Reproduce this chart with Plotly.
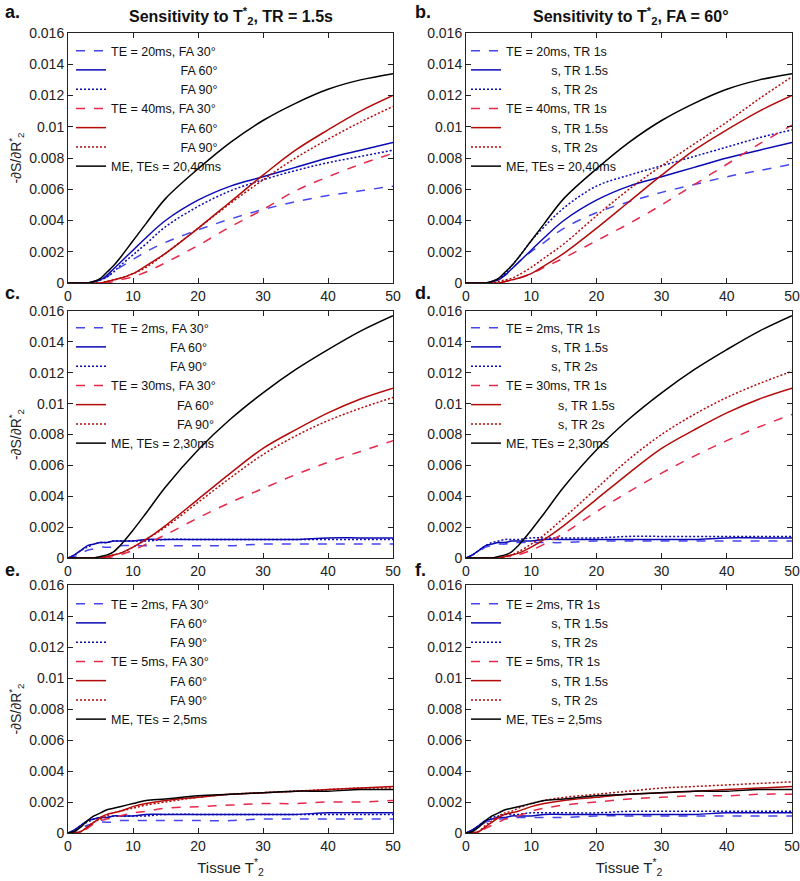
import plotly.graph_objects as go

# ---------------- data ----------------
T2 = [0, 1, 2, 3, 4, 5, 6, 7, 8, 10, 12, 15, 20, 25, 30, 35, 40, 45, 50]

# Panels a/b : TE = 20 / 40 ms
me_20_40       = [0, 0, 0, 0, 0.0001, 0.0003, 0.0007, 0.0011, 0.0016, 0.0027, 0.0038, 0.0054, 0.0073, 0.0090, 0.0104, 0.0115, 0.0124, 0.0130, 0.0134]
te20_fa60_tr15 = [0, 0, 0, 0, 0.0001, 0.0002, 0.0005, 0.0009, 0.0013, 0.0021, 0.0029, 0.0040, 0.0053, 0.0062, 0.0068, 0.0074, 0.0080, 0.0085, 0.0090]
te20_fa90      = [0, 0, 0, 0, 0.0001, 0.0002, 0.0004, 0.0007, 0.0011, 0.0018, 0.0025, 0.0036, 0.0049, 0.0059, 0.0066, 0.0072, 0.0077, 0.0081, 0.0085]
te20_fa30      = [0, 0, 0, 0, 0.0001, 0.0002, 0.0004, 0.0007, 0.0010, 0.0015, 0.0020, 0.0026, 0.0034, 0.0041, 0.0047, 0.0052, 0.0056, 0.0059, 0.0062]
te40_fa60_tr15 = [0, 0, 0, 0, 0, 0, 0.0001, 0.0002, 0.0003, 0.0006, 0.0011, 0.0019, 0.0035, 0.0052, 0.0069, 0.0085, 0.0098, 0.0110, 0.0120]
te40_fa90      = [0, 0, 0, 0, 0, 0, 0.0001, 0.0002, 0.0003, 0.0006, 0.0010, 0.0019, 0.0035, 0.0051, 0.0066, 0.0080, 0.0092, 0.0103, 0.0113]
te40_fa30      = [0, 0, 0, 0, 0, 0, 0, 0.0001, 0.0002, 0.0004, 0.0007, 0.0013, 0.0024, 0.0036, 0.0047, 0.0059, 0.0068, 0.0076, 0.0083]
te20_tr2       = [0, 0, 0, 0, 0.0001, 0.0003, 0.0006, 0.0011, 0.0016, 0.0027, 0.0036, 0.0048, 0.0062, 0.0069, 0.0075, 0.0081, 0.0087, 0.0093, 0.0098]
te20_tr1       = [0, 0, 0, 0, 0.0001, 0.0003, 0.0005, 0.0009, 0.0013, 0.0020, 0.0026, 0.0035, 0.0045, 0.0052, 0.0058, 0.0063, 0.0068, 0.0072, 0.0076]
te40_tr2       = [0, 0, 0, 0, 0, 0.0001, 0.0002, 0.0003, 0.0005, 0.0010, 0.0016, 0.0025, 0.0043, 0.0060, 0.0075, 0.0089, 0.0103, 0.0118, 0.0132]
te40_tr1       = [0, 0, 0, 0, 0, 0, 0.0001, 0.0002, 0.0003, 0.0006, 0.0010, 0.0016, 0.0027, 0.0038, 0.0050, 0.0063, 0.0076, 0.0089, 0.0101]

# Panels c/d : TE = 2 / 30 ms
me_2_30        = [0, 0, 0, 0, 0, 0.0001, 0.0002, 0.0004, 0.0008, 0.0018, 0.0029, 0.0046, 0.0070, 0.0090, 0.0107, 0.0122, 0.0135, 0.0147, 0.0157]
te2_fa60_tr15  = [0, 0.0002, 0.0005, 0.0008, 0.0009, 0.0010, 0.0010, 0.0011, 0.0011, 0.0011, 0.0012, 0.0012, 0.0012, 0.0012, 0.0012, 0.0012, 0.0013, 0.0013, 0.0013]
te2_fa90       = [0, 0.0002, 0.0005, 0.0007, 0.0009, 0.0010, 0.0010, 0.0011, 0.0011, 0.0011, 0.0011, 0.0012, 0.0012, 0.0012, 0.0012, 0.0012, 0.0012, 0.0012, 0.0012]
te2_fa30       = [0, 0.0001, 0.0003, 0.0005, 0.0006, 0.0007, 0.0007, 0.0007, 0.0008, 0.0008, 0.0008, 0.0008, 0.0008, 0.0008, 0.0009, 0.0009, 0.0009, 0.0009, 0.0009]
te30_fa60_tr15 = [0, 0, 0, 0, 0, 0, 0.0001, 0.0002, 0.0003, 0.0007, 0.0012, 0.0021, 0.0038, 0.0055, 0.0071, 0.0083, 0.0094, 0.0103, 0.0110]
te30_fa90      = [0, 0, 0, 0, 0, 0, 0.0001, 0.0002, 0.0003, 0.0007, 0.0012, 0.0020, 0.0036, 0.0052, 0.0067, 0.0079, 0.0089, 0.0097, 0.0104]
te30_fa30      = [0, 0, 0, 0, 0, 0, 0, 0.0001, 0.0002, 0.0005, 0.0009, 0.0015, 0.0026, 0.0036, 0.0045, 0.0054, 0.0062, 0.0069, 0.0076]
te2_tr2        = [0, 0.0002, 0.0005, 0.0008, 0.0010, 0.0011, 0.0012, 0.0012, 0.0012, 0.0013, 0.0013, 0.0013, 0.0013, 0.0014, 0.0014, 0.0014, 0.0014, 0.0014, 0.0014]
te2_tr1        = [0, 0.0002, 0.0004, 0.0007, 0.0008, 0.0009, 0.0009, 0.0010, 0.0010, 0.0010, 0.0010, 0.0010, 0.0011, 0.0011, 0.0011, 0.0011, 0.0011, 0.0011, 0.0011]
te30_tr2       = [0, 0, 0, 0, 0, 0, 0.0001, 0.0002, 0.0004, 0.0009, 0.0015, 0.0026, 0.0045, 0.0064, 0.0080, 0.0093, 0.0104, 0.0113, 0.0121]
te30_tr1       = [0, 0, 0, 0, 0, 0, 0.0001, 0.0001, 0.0002, 0.0005, 0.0009, 0.0016, 0.0030, 0.0043, 0.0055, 0.0066, 0.0076, 0.0085, 0.0093]

# Panels e/f : TE = 2 / 5 ms
me_2_5         = [0, 0.0001, 0.0004, 0.0008, 0.0011, 0.0013, 0.0015, 0.0016, 0.0017, 0.0019, 0.0021, 0.0022, 0.0024, 0.0025, 0.0026, 0.0027, 0.0027, 0.0028, 0.0028]
te5_fa60_tr15  = [0, 0, 0.0001, 0.0004, 0.0007, 0.0010, 0.0012, 0.0013, 0.0014, 0.0017, 0.0019, 0.0021, 0.0023, 0.0025, 0.0026, 0.0027, 0.0028, 0.0029, 0.0030]
te5_fa90       = [0, 0, 0.0001, 0.0004, 0.0007, 0.0009, 0.0011, 0.0013, 0.0014, 0.0016, 0.0018, 0.0020, 0.0023, 0.0025, 0.0026, 0.0027, 0.0028, 0.0029, 0.0029]
te5_fa30       = [0, 0, 0.0001, 0.0003, 0.0006, 0.0008, 0.0009, 0.0010, 0.0011, 0.0013, 0.0014, 0.0016, 0.0017, 0.0018, 0.0019, 0.0019, 0.0020, 0.0020, 0.0021]
te5_tr2        = [0, 0, 0.0001, 0.0005, 0.0008, 0.0011, 0.0013, 0.0014, 0.0016, 0.0019, 0.0021, 0.0023, 0.0025, 0.0027, 0.0029, 0.0030, 0.0031, 0.0032, 0.0033]
te5_tr1        = [0, 0, 0.0001, 0.0003, 0.0005, 0.0007, 0.0009, 0.0010, 0.0011, 0.0014, 0.0016, 0.0018, 0.0020, 0.0022, 0.0023, 0.0024, 0.0024, 0.0025, 0.0025]

Y_TICKS = [0, 0.002, 0.004, 0.006, 0.008, 0.01, 0.012, 0.014, 0.016]
Y_TICK_LABELS = ["0", "0.002", "0.004", "0.006", "0.008", "0.01", "0.012", "0.014", "0.016"]
X_TICKS = [0, 10, 20, 30, 40, 50]

# ---------------- styles ----------------
BLUE = "#0a0ab4"
BLUE_L = "#4646f0"
RED = "#b40a0a"
RED_L = "#e6284b"
BLACK = "#000000"
DOT = "2px,2px"
NB = "\u00a0"

def pad(n, s):
    return NB * n + s

panels = [
    [("TE = 20ms, FA 30°", te20_fa30, BLUE_L, "dash"),
     (pad(20, "FA 60°"), te20_fa60_tr15, BLUE, "solid"),
     (pad(20, "FA 90°"), te20_fa90, BLUE, DOT),
     ("TE = 40ms, FA 30°", te40_fa30, RED_L, "dash"),
     (pad(20, "FA 60°"), te40_fa60_tr15, RED, "solid"),
     (pad(20, "FA 90°"), te40_fa90, RED, DOT),
     ("ME, TEs = 20,40ms", me_20_40, BLACK, "solid")],
    [("TE = 20ms, TR 1s", te20_tr1, BLUE_L, "dash"),
     (pad(13, "s, TR 1.5s"), te20_fa60_tr15, BLUE, "solid"),
     (pad(13, "s, TR 2s"), te20_tr2, BLUE, DOT),
     ("TE = 40ms, TR 1s", te40_tr1, RED_L, "dash"),
     (pad(13, "s, TR 1.5s"), te40_fa60_tr15, RED, "solid"),
     (pad(13, "s, TR 2s"), te40_tr2, RED, DOT),
     ("ME, TEs = 20,40ms", me_20_40, BLACK, "solid")],
    [("TE = 2ms, FA 30°", te2_fa30, BLUE_L, "dash"),
     (pad(17, "FA 60°"), te2_fa60_tr15, BLUE, "solid"),
     (pad(17, "FA 90°"), te2_fa90, BLUE, DOT),
     ("TE = 30ms, FA 30°", te30_fa30, RED_L, "dash"),
     (pad(19, "FA 60°"), te30_fa60_tr15, RED, "solid"),
     (pad(19, "FA 90°"), te30_fa90, RED, DOT),
     ("ME, TEs = 2,30ms", me_2_30, BLACK, "solid")],
    [("TE = 2ms, TR 1s", te2_tr1, BLUE_L, "dash"),
     (pad(13, "s, TR 1.5s"), te2_fa60_tr15, BLUE, "solid"),
     (pad(13, "s, TR 2s"), te2_tr2, BLUE, DOT),
     ("TE = 30ms, TR 1s", te30_tr1, RED_L, "dash"),
     (pad(15, "s, TR 1.5s"), te30_fa60_tr15, RED, "solid"),
     (pad(15, "s, TR 2s"), te30_tr2, RED, DOT),
     ("ME, TEs = 2,30ms", me_2_30, BLACK, "solid")],
    [("TE = 2ms, FA 30°", te2_fa30, BLUE_L, "dash"),
     (pad(17, "FA 60°"), te2_fa60_tr15, BLUE, "solid"),
     (pad(17, "FA 90°"), te2_fa90, BLUE, DOT),
     ("TE = 5ms, FA 30°", te5_fa30, RED_L, "dash"),
     (pad(17, "FA 60°"), te5_fa60_tr15, RED, "solid"),
     (pad(17, "FA 90°"), te5_fa90, RED, DOT),
     ("ME, TEs = 2,5ms", me_2_5, BLACK, "solid")],
    [("TE = 2ms, TR 1s", te2_tr1, BLUE_L, "dash"),
     (pad(13, "s, TR 1.5s"), te2_fa60_tr15, BLUE, "solid"),
     (pad(13, "s, TR 2s"), te2_tr2, BLUE, DOT),
     ("TE = 5ms, TR 1s", te5_tr1, RED_L, "dash"),
     (pad(13, "s, TR 1.5s"), te5_fa60_tr15, RED, "solid"),
     (pad(13, "s, TR 2s"), te5_tr2, RED, DOT),
     ("ME, TEs = 2,5ms", me_2_5, BLACK, "solid")],
]

W, H = 800, 881
def dx(a, b):
    return [a / W, b / W]
def dy(top, bottom):
    return [1 - bottom / H, 1 - top / H]

x_dom = [dx(68, 393), dx(466, 792)]
y_dom = [dy(33, 283), dy(311, 558), dy(585, 833)]
legend_xy = [(71, 36), (466, 36), (71, 313), (466, 313), (71, 589), (466, 589)]

FONT = "Liberation Sans, Arial, Helvetica, sans-serif"
fig = go.Figure()
layout = dict(
    width=W, height=H, margin=dict(l=0, r=0, t=0, b=0, autoexpand=False),
    paper_bgcolor="white", plot_bgcolor="white",
    font=dict(family=FONT, size=14, color="#111"),
    showlegend=True,
)

for i, traces in enumerate(panels):
    k = i + 1
    xa = "x" if k == 1 else f"x{k}"
    ya = "y" if k == 1 else f"y{k}"
    lg = "legend" if k == 1 else f"legend{k}"
    for name, vals, color, dash in traces:
        fig.add_trace(go.Scatter(
            x=T2, y=vals, name=name, mode="lines",
            line=dict(color=color, width=1.5, dash=dash, shape="spline", smoothing=1.0),
            xaxis=xa, yaxis=ya, legend=lg,
        ))
    row, col = i // 2, i % 2
    axis_common = dict(showline=True, linecolor="#222", linewidth=1, mirror="ticks",
                       ticks="inside", ticklen=5, tickcolor="#222", showgrid=False,
                       zeroline=False, automargin=False,
                       tickfont=dict(size=14, color="#222"))
    xkey = "xaxis" if k == 1 else f"xaxis{k}"
    ykey = "yaxis" if k == 1 else f"yaxis{k}"
    layout[xkey] = dict(domain=x_dom[col], range=[0, 50], tickvals=X_TICKS,
                        anchor=ya, **axis_common)
    layout[ykey] = dict(domain=y_dom[row], range=[0, 0.016], tickvals=Y_TICKS,
                        ticktext=Y_TICK_LABELS, anchor=xa, **axis_common)
    if col == 0:
        layout[ykey]["title"] = dict(text="-∂S/∂R<sup>*</sup><sub>2</sub>",
                                     font=dict(size=14, color="#222"), standoff=4)
    if row == 2:
        layout[xkey]["title"] = dict(text="Tissue T<sup>*</sup><sub>2</sub>",
                                     font=dict(size=15, color="#222"), standoff=9)
    lx, ly = legend_xy[i]
    layout[lg] = dict(x=lx / W, y=1 - ly / H, xanchor="left", yanchor="top",
                      bgcolor="rgba(0,0,0,0)", borderwidth=0, itemwidth=30,
                      font=dict(size=12.5, color="#111"), tracegroupgap=0,
                      traceorder="normal")

annotations = [
    dict(text="<b>Sensitivity to T<sup>*</sup><sub>2</sub>, TR = 1.5s</b>", x=231 / W, y=1 - 16 / H,
         xref="paper", yref="paper", xanchor="center", yanchor="middle",
         showarrow=False, font=dict(size=16, color="#111")),
    dict(text="<b>Sensitivity to T<sup>*</sup><sub>2</sub>, FA = 60°</b>", x=631 / W, y=1 - 16 / H,
         xref="paper", yref="paper", xanchor="center", yanchor="middle",
         showarrow=False, font=dict(size=16, color="#111")),
]
letters = [("a.", 3, 12), ("b.", 413, 12), ("c.", 3, 293), ("d.", 413, 293), ("e.", 3, 570), ("f.", 413, 570)]
for t, lx, ly in letters:
    annotations.append(dict(text=f"<b>{t}</b>", x=lx / W, y=1 - ly / H, xref="paper", yref="paper",
                            xanchor="left", yanchor="middle", showarrow=False,
                            font=dict(size=18, color="#111")))
layout["annotations"] = annotations

fig.update_layout(**layout)
fig.write_html("out.html", config={"displayModeBar": False},
               post_script="document.body.style.margin='0px';document.body.style.padding='0px';")
